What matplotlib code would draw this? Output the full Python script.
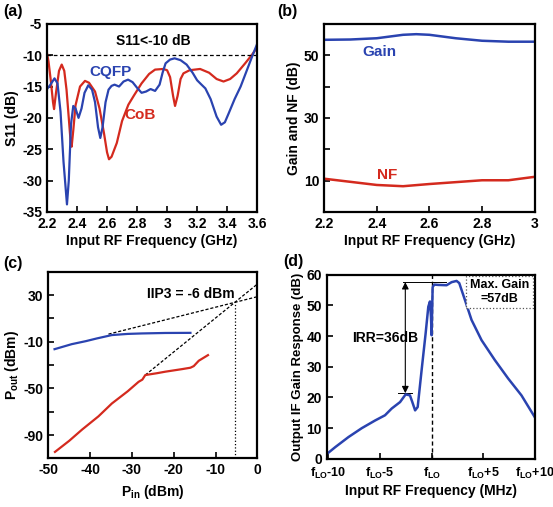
import matplotlib
matplotlib.use("Agg")
import matplotlib.pyplot as plt
from matplotlib.ticker import FixedLocator

plt.rcParams['font.family'] = ['Liberation Sans Narrow', 'Liberation Sans', 'DejaVu Sans']
plt.rcParams['font.weight'] = 'bold'
plt.rcParams['axes.labelweight'] = 'bold'
plt.rcParams['font.size'] = 10
plt.rcParams['axes.unicode_minus'] = False
plt.rcParams['mathtext.fontset'] = 'custom'
plt.rcParams['mathtext.rm'] = 'Liberation Sans:bold'
plt.rcParams['mathtext.default'] = 'rm'

BLUE = '#2a43b0'
RED = '#d42a1e'

# ---------- (a) S11 ----------
a_cqfp_x = [2.2, 2.22, 2.25, 2.27, 2.29, 2.31, 2.333, 2.345, 2.36, 2.375, 2.39, 2.41, 2.43, 2.45,
            2.475, 2.5, 2.52, 2.54, 2.555, 2.57, 2.59, 2.61, 2.63, 2.65, 2.68, 2.71, 2.74, 2.77,
            2.8, 2.83, 2.86, 2.89, 2.92, 2.95, 2.97, 2.99, 3.02, 3.05, 3.09, 3.13, 3.17, 3.2,
            3.225, 3.255, 3.29, 3.33, 3.36, 3.385, 3.41, 3.45, 3.49, 3.53, 3.57, 3.6]
a_cqfp_y = [-15.4, -14.8, -13.7, -14.5, -19, -27, -33.8, -30, -21, -18.1, -18.5, -20.0, -18.5, -16,
            -14.8, -15.5, -17.5, -21.5, -23.2, -21.5, -17.5, -15.5, -14.9, -14.7, -15.0, -14.2, -13.9, -14.3,
            -15.2, -16.0, -15.8, -15.4, -15.7, -14.7, -12.8, -11.3, -10.7, -10.5, -10.8, -11.5, -12.8, -14.0,
            -14.6, -15.3, -17.0, -19.8, -21.1, -20.7, -19.3, -17, -15.0, -12.5, -10.0, -8.2]
a_cob_x = [2.2, 2.21, 2.225, 2.24, 2.247, 2.26, 2.28, 2.298, 2.315, 2.33, 2.345, 2.358, 2.364, 2.375,
           2.39, 2.42, 2.453, 2.48, 2.52, 2.55, 2.58, 2.6, 2.613, 2.63, 2.665, 2.7, 2.742, 2.78,
           2.83, 2.88, 2.92, 2.975, 3.0, 3.02, 3.04, 3.053, 3.07, 3.09, 3.109, 3.15, 3.22, 3.28,
           3.33, 3.376, 3.42, 3.464, 3.52, 3.56, 3.6]
a_cob_y = [-9.7, -11, -14, -17.5, -18.6, -16, -12.5, -11.5, -12.5, -15.5, -20, -24, -24.6, -22,
           -18, -15, -14.1, -14.4, -15.8, -18.5, -22.5, -25.5, -26.6, -26.2, -24.0, -20.5, -17.9, -16.4,
           -14.5, -13, -12.3, -12.2, -12.4, -13.5, -16.5, -18.1, -16.5, -13.8, -12.9, -12.4, -12.2, -12.8,
           -13.8, -14.2, -13.8, -12.9, -11.3, -10.1, -8.8]
a_xticks = [2.2, 2.4, 2.6, 2.8, 3.0, 3.2, 3.4, 3.6]
a_xlabels = ['2.2', '2.4', '2.6', '2.8', '3', '3.2', '3.4', '3.6']

# ---------- (b) Gain and NF ----------
b_x = [2.2, 2.3, 2.4, 2.5, 2.55, 2.6, 2.7, 2.8, 2.9, 3.0]
b_gain = [54.9, 55.0, 55.4, 56.5, 56.7, 56.5, 55.4, 54.6, 54.3, 54.3]
b_nf_x = [2.2, 2.3, 2.4, 2.5, 2.6, 2.7, 2.8, 2.9, 3.0]
b_nf = [10.6, 9.6, 8.6, 8.2, 8.9, 9.5, 10.1, 10.1, 11.2]
b_xticks = [2.2, 2.4, 2.6, 2.8, 3.0]
b_xlabels = ['2.2', '2.4', '2.6', '2.8', '3']

# ---------- (c) IIP3 ----------
c_fund_x = [-48.5, -44.4, -41, -38.4, -34.8, -31, -27.6, -22, -16]
c_fund_y = [-16.4, -12.1, -9.5, -7.2, -4.3, -3.3, -2.9, -2.5, -2.4]
c_im3_x = [-48.4, -45, -41.9, -38, -34.8, -31, -28.4, -27.5, -26.8, -24, -22, -18, -16, -15.2, -14, -11.8]
c_im3_y = [-104.5, -95, -85.3, -74, -63, -52.5, -44.4, -42.5, -38.6, -37, -35.7, -33.5, -32.3, -30.9, -26.3, -21.5]
c_fund_ext_x = [-35.6, 0]
c_fund_ext_y = [-3.5, 28.6]
c_im3_ext_x = [-26.8, 0]
c_im3_ext_y = [-38.6, 39.4]
c_iip3 = -5.4
c_iip3_out = 24.0

# ---------- (d) IF gain response ----------
d_x = [-10.06, -9.35, -8.06, -6.77, -5.48, -4.52, -3.87, -3.06, -2.52, -2.1, -1.87, -1.6, -1.35,
       -0.97, -0.58, -0.32, -0.16, -0.06, 0.0, 0.1, 0.26, 0.65, 1.45, 1.94, 2.42, 2.68, 3.23,
       3.87, 4.84, 6.13, 7.42, 8.71, 10.0]
d_y = [1.85, 3.8, 7.1, 10.0, 12.5, 14.2, 16.4, 18.5, 21.0, 20.7, 18.5, 15.8, 16.9,
       28.9, 40.9, 49.6, 51.3, 46.3, 40.3, 56.0, 56.8, 56.7, 56.6, 57.6, 58.0, 57.3, 51.8,
       45.3, 38.7, 32.2, 26.2, 20.7, 13.6]
d_xticks = [-10, -5, 0, 5, 10]
d_xlabels = [r'f$_{LO}$-10', r'f$_{LO}$-5', r'f$_{LO}$', r'f$_{LO}$+5', r'f$_{LO}$+10']
d_img_level = 21.4
d_max_level = 57.6

fig = plt.figure(figsize=(5.53, 5.07), dpi=100)
ax_a = fig.add_axes([0.085, 0.582, 0.380, 0.371])
ax_b = fig.add_axes([0.586, 0.582, 0.381, 0.371])
ax_c = fig.add_axes([0.0873, 0.096, 0.378, 0.368])
ax_d = fig.add_axes([0.591, 0.095, 0.376, 0.363])

for ax in (ax_a, ax_b, ax_c, ax_d):
    for s in ax.spines.values():
        s.set_linewidth(1.6)
    ax.tick_params(direction='in', length=4, width=1.2, labelsize=10)
    ax.tick_params(which='minor', direction='in', length=4, width=1.2)

# (a)
ax_a.plot(a_cob_x, a_cob_y, color=RED, lw=1.6)
ax_a.plot(a_cqfp_x, a_cqfp_y, color=BLUE, lw=1.6)
ax_a.axhline(-10, color='black', ls='--', lw=0.9, dashes=(3, 2))
ax_a.set_xlim(2.2, 3.6)
ax_a.set_ylim(-35, -5)
ax_a.set_xticks(a_xticks)
ax_a.set_xticklabels(a_xlabels)
ax_a.set_yticks([-35, -30, -25, -20, -15, -10, -5])
ax_a.set_xlabel('Input RF Frequency (GHz)', labelpad=2)
ax_a.set_ylabel('S11 (dB)', labelpad=2)
ax_a.text(2.91, -7.8, 'S11<-10 dB', ha='center', va='center', fontsize=10)
ax_a.text(2.62, -12.7, 'CQFP', color=BLUE, ha='center', va='center', fontsize=11)
ax_a.text(2.82, -19.5, 'CoB', color=RED, ha='center', va='center', fontsize=11)
fig.text(0.005, 0.978, '(a)', fontsize=11.5, weight='bold', va='center')

# (b)
ax_b.plot(b_x, b_gain, color=BLUE, lw=1.8)
ax_b.plot(b_nf_x, b_nf, color=RED, lw=1.8)
ax_b.set_xlim(2.2, 3.0)
ax_b.set_ylim(0, 60)
ax_b.set_xticks(b_xticks)
ax_b.set_xticklabels(b_xlabels)
ax_b.set_yticks([10, 30, 50])
ax_b.yaxis.set_minor_locator(FixedLocator([20, 40]))
ax_b.set_xlabel('Input RF Frequency (GHz)', labelpad=2)
ax_b.set_ylabel('Gain and NF (dB)', labelpad=2)
ax_b.text(2.41, 50.9, 'Gain', color=BLUE, ha='center', va='center', fontsize=11)
ax_b.text(2.44, 11.8, 'NF', color=RED, ha='center', va='center', fontsize=11)
fig.text(0.502, 0.978, '(b)', fontsize=11.5, weight='bold', va='center')

# (c)
ax_c.plot(c_fund_ext_x, c_fund_ext_y, color='black', ls='--', lw=0.9, dashes=(2.5, 1.5))
ax_c.plot(c_im3_ext_x, c_im3_ext_y, color='black', ls='--', lw=0.9, dashes=(2.5, 1.5))
ax_c.plot([c_iip3, c_iip3], [-110, c_iip3_out], color='black', ls=':', lw=0.9)
ax_c.plot(c_fund_x, c_fund_y, color=BLUE, lw=1.6)
ax_c.plot(c_im3_x, c_im3_y, color=RED, lw=1.6)
ax_c.set_xlim(-50, 0)
ax_c.set_ylim(-110, 50)
ax_c.set_xticks([-50, -40, -30, -20, -10, 0])
ax_c.set_yticks([30, -10, -50, -90])
ax_c.yaxis.set_minor_locator(FixedLocator([10, -30, -70]))
ax_c.set_xlabel(r'P$_{in}$ (dBm)', labelpad=4)
ax_c.set_ylabel(r'P$_{out}$ (dBm)', labelpad=2)
ax_c.text(-16, 31, 'IIP3 = -6 dBm', ha='center', va='center', fontsize=10)
fig.text(0.005, 0.48, '(c)', fontsize=11.5, weight='bold', va='center')

# (d)
ax_d.axvline(0, color='black', ls='--', lw=1.0, dashes=(3, 2))
ax_d.plot([-2.8, 1.4], [d_max_level, d_max_level], color='black', lw=0.7)
ax_d.plot([-3.3, -1.9], [d_img_level, d_img_level], color='black', lw=0.7)
ax_d.annotate('', xy=(-2.55, d_img_level), xytext=(-2.55, d_max_level),
              arrowprops=dict(arrowstyle='<|-|>', color='black', lw=0.8,
                              mutation_scale=10, shrinkA=0, shrinkB=0))
ax_d.plot(d_x, d_y, color=BLUE, lw=1.8)
ax_d.set_xlim(-10.16, 10)
ax_d.set_ylim(0, 60)
ax_d.set_xticks(d_xticks)
ax_d.set_xticklabels(d_xlabels, fontsize=9)
ax_d.set_yticks([0, 10, 20, 30, 40, 50, 60])
ax_d.tick_params(axis='x', pad=5)
ax_d.set_xlabel('Input RF Frequency (MHz)', labelpad=2)
ax_d.set_ylabel('Output IF Gain Response (dB)', labelpad=2, fontsize=9.5)
ax_d.text(-4.5, 39.3, 'IRR=36dB', ha='center', va='center', fontsize=10)
ax_d.text(6.6, 54.4, 'Max. Gain\n=57dB', ha='center', va='center', fontsize=9,
          linespacing=1.15,
          bbox=dict(boxstyle='square,pad=0.3', fc='white', ec='#555555', ls=':', lw=0.9))
fig.text(0.512, 0.484, '(d)', fontsize=11.5, weight='bold', va='center')

fig.savefig('out.png', dpi=100)
